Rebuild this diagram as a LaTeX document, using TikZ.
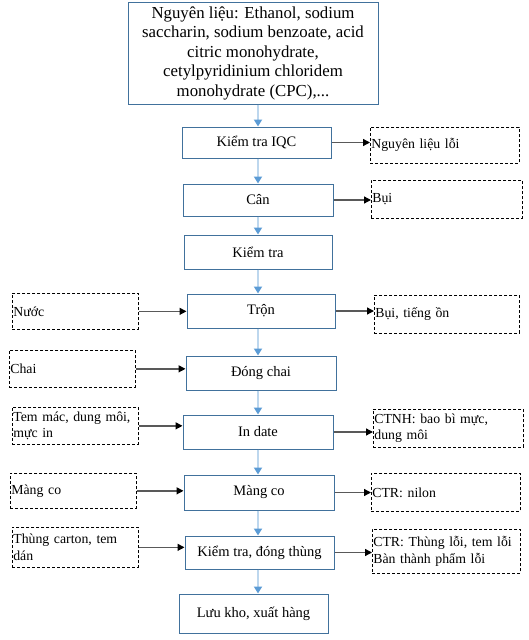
\documentclass[tikz,border=0pt]{standalone}
\usepackage{fontspec}
\setmainfont{Liberation Serif}
\usetikzlibrary{arrows.meta,positioning}

\definecolor{stepblue}{HTML}{41719C}
\definecolor{flowline}{HTML}{BDD7EE}
\definecolor{flowtip}{HTML}{5B9BD5}
\definecolor{sideline}{HTML}{595959}

\begin{document}
\begin{tikzpicture}[x=1pt,y=-1pt,
	stepbox/.style={draw=stepblue,line width=1pt,inner sep=1pt,align=center,font=\fontsize{14.5}{17}\selectfont},
	sidebox/.style={draw,densely dashed,line width=0.7pt,anchor=north west,align=left,inner xsep=1pt,inner ysep=1pt,font=\fontsize{13.8}{16.5}\selectfont},
	flow/.style={draw=flowline,line width=2pt,-{Triangle[length=7pt,width=8pt,color=flowtip]}},
	side/.style={draw=sideline,line width=1.3pt,-{Triangle[length=7pt,width=7pt,color=black]}}]
	\useasboundingbox (0,0) rectangle (529,640);

	% cot giua
	\node[stepbox,minimum width=250pt,minimum height=102pt,font=\fontsize{16.8}{19.5}\selectfont] (nguyenlieu) at (253,53) {Nguyên liệu: Ethanol, sodium\\saccharin, sodium benzoate, acid\\citric monohydrate,\\cetylpyridinium chloridem\\monohydrate (CPC),...};
	\node[stepbox,minimum width=149pt,minimum height=31pt] (iqc) at (256.5,142.5) {Kiểm tra IQC};
	\node[stepbox,minimum width=150pt,minimum height=32pt] (can) at (258,200) {Cân};
	\node[stepbox,minimum width=148pt,minimum height=34pt] (kiemtra) at (258,252) {Kiểm tra};
	\node[stepbox,minimum width=148pt,minimum height=34pt] (tron) at (261,311) {Trộn};
	\node[stepbox,minimum width=150pt,minimum height=34pt] (dongchai) at (261,373) {Đóng chai};
	\node[stepbox,minimum width=150pt,minimum height=34pt] (indate) at (258,432) {In date};
	\node[stepbox,minimum width=150pt,minimum height=35pt] (mangco) at (259,492.5) {Màng co};
	\node[stepbox,minimum width=149pt,minimum height=33pt] (dongthung) at (259.5,552.5) {Kiểm tra, đóng thùng};
	\node[stepbox,minimum width=149pt,minimum height=39pt] (luukho) at (253.5,613.5) {Lưu kho, xuất hàng};
	\coordinate (truc) at (258,0);

	% dau vao
	\node[sidebox,minimum width=126pt,minimum height=36pt,text width=124pt] (nuoc) at (12,293) {Nước};
	\node[sidebox,minimum width=126pt,minimum height=37pt,text width=124pt] (chai) at (9,350) {Chai};
	\node[sidebox,minimum width=126pt,minimum height=37pt,text width=124pt] (temmac) at (12,407) {Tem mác, dung môi,\\mực in};
	\node[sidebox,minimum width=126pt,minimum height=35pt,text width=124pt] (mangcoin) at (10,473) {Màng co};
	\node[sidebox,minimum width=126pt,minimum height=40pt,text width=124pt] (thungcarton) at (12,527) {Thùng carton, tem\\dán};

	% dau ra
	\node[sidebox,minimum width=149pt,minimum height=36pt,text width=147pt] (nlloi) at (370,127) {Nguyên liệu lỗi};
	\node[sidebox,minimum width=151pt,minimum height=38pt,text width=149pt] (bui) at (371,180) {Bụi};
	\node[sidebox,minimum width=145pt,minimum height=38pt,text width=143pt] (tiengon) at (374,295) {Bụi, tiếng ồn};
	\node[sidebox,minimum width=150pt,minimum height=38pt,text width=148pt] (ctnh) at (373,409) {CTNH: bao bì mực,\\dung môi};
	\node[sidebox,minimum width=149pt,minimum height=38pt,text width=147pt] (nilon) at (371,473) {CTR: nilon};
	\node[sidebox,minimum width=148pt,minimum height=44pt,text width=146pt] (thungloi) at (372,529) {CTR: Thùng lỗi, tem lỗi\\Bàn thành phẩm lỗi};

	\draw[flow] (nguyenlieu.south -| truc) -- (iqc.north -| truc);
	\draw[flow] (iqc.south -| truc) -- (can.north -| truc);
	\draw[flow] (can.south -| truc) -- (kiemtra.north -| truc);
	\draw[flow] (kiemtra.south -| truc) -- (tron.north -| truc);
	\draw[flow] (tron.south -| truc) -- (dongchai.north -| truc);
	\draw[flow] (dongchai.south -| truc) -- (indate.north -| truc);
	\draw[flow] (indate.south -| truc) -- (mangco.north -| truc);
	\draw[flow] (mangco.south -| truc) -- (dongthung.north -| truc);
	\draw[flow] (dongthung.south -| truc) -- (luukho.north -| truc);

	\draw[side] (nuoc.east) -- (nuoc.east -| tron.west);
	\draw[side] (chai.east) -- (chai.east -| dongchai.west);
	\draw[side] (temmac.east) -- (temmac.east -| indate.west);
	\draw[side] (mangcoin.east) -- (mangcoin.east -| mangco.west);
	\draw[side] (thungcarton.east) -- (thungcarton.east -| dongthung.west);

	\draw[side] (iqc.east) -- (iqc.east -| nlloi.west);
	\draw[side] (can.east) -- (can.east -| bui.west);
	\draw[side] (tron.east) -- (tron.east -| tiengon.west);
	\draw[side] (indate.east) -- (indate.east -| ctnh.west);
	\draw[side] (mangco.east) -- (mangco.east -| nilon.west);
	\draw[side] (dongthung.east) -- (dongthung.east -| thungloi.west);
\end{tikzpicture}
\end{document}
